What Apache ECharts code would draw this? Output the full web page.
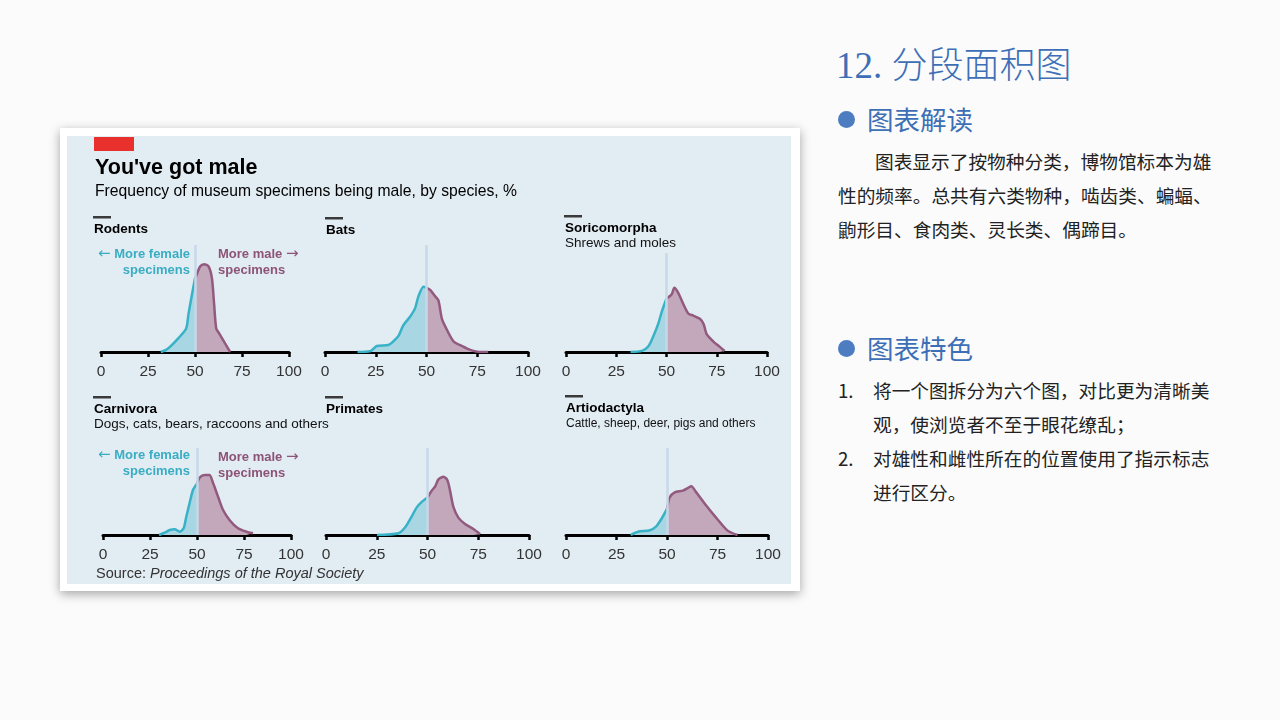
<!DOCTYPE html>
<html>
<head>
<meta charset="utf-8">
<script src="https://cdn.jsdelivr.net/npm/echarts@6/dist/echarts.min.js"></script>
<style>
  html, body { margin:0; padding:0; width:1280px; height:720px; background:#fbfbfb; overflow:hidden; }
  #card { position:absolute; left:60px; top:128px; width:740px; height:463px; background:#fff;
          box-shadow: 0 3px 10px rgba(0,0,0,0.35); }
  #chart { position:absolute; left:67px; top:136px; width:724px; height:448px; background:#e2ecf3; }
  .cjk { font-family: "Noto Sans CJK SC", sans-serif; position:absolute; white-space:nowrap; }
  #h1 { left:836px; top:40px; font-size:36px; line-height:44px; color:#3d6fb6; font-weight:300; }
  #h1 .num { font-family:"Liberation Serif", serif; font-size:37px; }
  .h2 { left:867px; font-size:26.5px; line-height:34px; color:#3d6fb6; }
  .dot { position:absolute; left:838px; width:17px; height:17px; border-radius:50%; background:#4d7cc1; }
  .p { font-size:18.7px; line-height:34px; color:#222; }
</style>
</head>
<body>
<div id="card"></div>
<div id="chart"></div>

<div id="h1" class="cjk"><span class="num">12.&nbsp;</span>分段面积图</div>
<div class="dot" style="top:111px"></div>
<div class="cjk h2" style="top:102px">图表解读</div>
<div class="cjk p" style="left:838px; top:144px;">
  <span style="padding-left:37px">图表显示了按物种分类，博物馆标本为雄</span><br>
  性的频率。总共有六类物种，啮齿类、蝙蝠、<br>
  鼩形目、食肉类、灵长类、偶蹄目。
</div>
<div class="dot" style="top:340px"></div>
<div class="cjk h2" style="top:331px">图表特色</div>
<div class="cjk p" style="left:838px; top:373px;">1.</div>
<div class="cjk p" style="left:873px; top:373px;">将一个图拆分为六个图，对比更为清晰美<br>观，使浏览者不至于眼花缭乱；</div>
<div class="cjk p" style="left:838px; top:441px;">2.</div>
<div class="cjk p" style="left:873px; top:441px;">对雄性和雌性所在的位置使用了指示标志<br>进行区分。</div>

<script>
// ---------- data ----------
const categories = ['Rodents', 'Bats', 'Soricomorpha', 'Carnivora', 'Primates', 'Artiodactyla'];
const subtitles = ['', '', 'Shrews and moles', 'Dogs, cats, bears, raccoons and others', '', 'Cattle, sheep, deer, pigs and others'];
const xTickValues = [0, 25, 50, 75, 100];
const splitValue = 50;

// [share male %, relative frequency]
const rodents = [[31.8,0],[34.6,0.2],[36.8,0.5],[41.2,1.3],[45.3,2.2],[46.5,3.5],[48,5.0],[50,6.9],[50.8,7.2],[52.7,8.0],[54.9,8.2],[57.2,8.0],[59,6.9],[60.2,4.4],[61.3,2.2],[63,1.7],[66,0.8],[68.7,0]];
const bats = [[16,0],[22.2,0.07],[25.5,0.56],[31.2,0.65],[33.7,1.0],[36.2,1.5],[38.6,2.5],[41.9,3.3],[44.4,4.1],[46,5.2],[48.5,6.1],[50,6.0],[51.8,5.8],[54.3,5.2],[55.9,4.8],[57.6,3.1],[60,2.1],[63.3,1.0],[67.5,0.56],[71.6,0.2],[76.5,0],[80.4,0]];
const soricomorpha = [[32.1,0],[37.8,0.1],[41.1,0.56],[43.5,1.5],[46,2.7],[47.7,3.8],[50,5.0],[52.6,5.4],[53.9,6.0],[55.9,5.5],[58.3,4.5],[60.8,3.6],[63.3,3.4],[66.6,3.1],[68.5,2.6],[69.9,1.7],[73.2,1.0],[76.4,0.5],[78.9,0.1]];
const carnivora = [[29.8,0],[32.8,0.26],[35.5,0.57],[38.1,0.66],[40.8,0.38],[42.9,0.77],[44.3,2.1],[46.1,3.7],[47.9,5.2],[50,5.9],[51.4,6.6],[54.1,6.9],[56.7,6.9],[58.5,6.0],[61.2,4.4],[63.8,2.9],[67.4,1.7],[71.8,0.77],[76.3,0.38],[79.8,0.2]];
const primates = [[25.1,0],[35.7,0.2],[39,0.89],[41.5,1.84],[44.8,3.2],[47.2,3.8],[50,4.3],[52.1,5.1],[53.8,5.6],[55.4,6.4],[57.9,6.7],[59.8,6.3],[61.1,5.1],[62.8,3.2],[65.2,2.0],[68.5,1.26],[72.6,0.69],[75.9,0.1]];
const artiodactyla = [[32,0],[35.7,0.38],[41.5,0.54],[44.8,1.03],[47.2,1.84],[50,3.0],[51.3,4.3],[53.8,4.9],[57.9,5.1],[60.3,5.4],[62,5.6],[64.5,4.9],[69.4,3.4],[74.3,2.0],[80,0.5],[84.9,0]];
const refLineTop = [10, 10, 9.25, 10, 10, 10];

const panelData = [rodents, bats, soricomorpha, carnivora, primates, artiodactyla];

// ---------- layout / style ----------
const FONT = '"Liberation Sans", Arial, sans-serif';
const C = { fLine:'#38b2c7', fFill:'#a8d6e3', mLine:'#925a7e', mFill:'#c3a7bb', ref:'#c6d9e8',
            fText:'#3aadc3', mText:'#8d5377' };
const grids = [
  { left:34,  top:109, width:188, height:107 },
  { left:258, top:109, width:203, height:107 },
  { left:499, top:109, width:201, height:107 },
  { left:36,  top:312, width:188, height:87 },
  { left:259, top:312, width:203, height:87 },
  { left:499, top:312, width:202, height:87 }
];
const heads = [
  { x:27,  y:93 }, { x:259, y:94 }, { x:498, y:92 },
  { x:27,  y:273 }, { x:259, y:273 }, { x:499, y:272 }
];
const SMOOTH = 0.25;

const chart = echarts.init(document.getElementById('chart'));

const xAxes = [], yAxes = [], series = [], graphics = [];
grids.forEach((g, i) => {
  xAxes.push({
    gridIndex:i, type:'value', min:0, max:100, interval:25,
    axisLine:{ show:true, onZero:false, lineStyle:{ color:'#000', width:3 } },
    axisTick:{ show:true, length:5, lineStyle:{ color:'#000', width:2.5 } },
    splitLine:{ show:false },
    axisLabel:{ color:'#333', fontSize:15.5, fontFamily:FONT, margin:12,
      customValues: xTickValues }
  });
  yAxes.push({ gridIndex:i, type:'value', min:0, max:10, show:false });
  const d = panelData[i];
  const female = d.filter(p => p[0] <= splitValue);
  const male = d.filter(p => p[0] >= splitValue);
  const base = { type:'line', xAxisIndex:i, yAxisIndex:i, showSymbol:false, silent:true, animation:false, smooth:SMOOTH };
  // fills
  series.push(Object.assign({}, base, { data:female, z:1, lineStyle:{ width:0 }, areaStyle:{ color:C.fFill, opacity:1 } }));
  series.push(Object.assign({}, base, { data:male, z:1, lineStyle:{ width:0 }, areaStyle:{ color:C.mFill, opacity:1 } }));
  // reference line at 50
  series.push(Object.assign({}, base, { data:[], z:2,
    markLine:{ silent:true, symbol:['none','none'], label:{ show:false }, animation:false,
      lineStyle:{ color:C.ref, width:2.5, type:'solid' },
      data:[[{ coord:[splitValue, 0] }, { coord:[splitValue, refLineTop[i]] }]] } }));
  // outlines
  series.push(Object.assign({}, base, { data:female, z:3, lineStyle:{ color:C.fLine, width:2.5 } }));
  series.push(Object.assign({}, base, { data:male, z:3, lineStyle:{ color:C.mLine, width:2.5 } }));

  // panel headings
  const h = heads[i];
  graphics.push({ type:'rect', shape:{ x:h.x - 1, y:h.y - 13, width:18, height:2.5 }, style:{ fill:'#3a3a3a' } });
  graphics.push({ type:'text', x:h.x, y:h.y, style:{ text:categories[i], font:'bold 13.5px ' + FONT,
    fill:'#000', textVerticalAlign:'middle' } });
  if (subtitles[i]) {
    graphics.push({ type:'text', x:h.x, y:h.y + 15.5, style:{ text:subtitles[i],
      font:(i === 5 ? '12px ' : '13.5px ') + FONT, fill:'#111', textVerticalAlign:'middle' } });
  }
});

// female/male annotations
const AFONT = 'bold 13px ' + FONT;
const ARROW = '15px "DejaVu Sans", sans-serif';
function annot(yTop, yMale) {
  graphics.push({ type:'text', x:123, y:yTop, style:{ text:'{a|\u2190} More female',
    rich:{ a:{ font:ARROW, fill:C.fText } }, font:AFONT, fill:C.fText, textAlign:'right', textVerticalAlign:'middle' } });
  graphics.push({ type:'text', x:123, y:yTop + 16, style:{ text:'specimens', font:AFONT, fill:C.fText, textAlign:'right', textVerticalAlign:'middle' } });
  graphics.push({ type:'text', x:151, y:yMale, style:{ text:'More male {a|\u2192}',
    rich:{ a:{ font:ARROW, fill:C.mText } }, font:AFONT, fill:C.mText, textVerticalAlign:'middle' } });
  graphics.push({ type:'text', x:151, y:yMale + 16, style:{ text:'specimens', font:AFONT, fill:C.mText, textVerticalAlign:'middle' } });
}
annot(118, 118);
annot(319, 321);

// header
graphics.push({ type:'rect', shape:{ x:27, y:1, width:40, height:14 }, style:{ fill:'#e8302c' } });
graphics.push({ type:'text', x:28, y:32, style:{ text:"You've got male", font:'bold 21.5px ' + FONT, fill:'#000', textVerticalAlign:'middle' } });
graphics.push({ type:'text', x:28, y:56, style:{ text:'Frequency of museum specimens being male, by species, %', font:'15.7px ' + FONT, fill:'#000', textVerticalAlign:'middle' } });
// source
graphics.push({ type:'text', x:29, y:438, style:{
  text:'{n|Source: }{i|Proceedings of the Royal Society}',
  rich:{ n:{ font:'14.5px ' + FONT, fill:'#333' }, i:{ font:'italic 14.5px ' + FONT, fill:'#333' } },
  textVerticalAlign:'middle' } });

chart.setOption({
  animation:false,
  grid: grids,
  xAxis: xAxes,
  yAxis: yAxes,
  series: series,
  graphic: graphics
});
</script>
</body>
</html>
